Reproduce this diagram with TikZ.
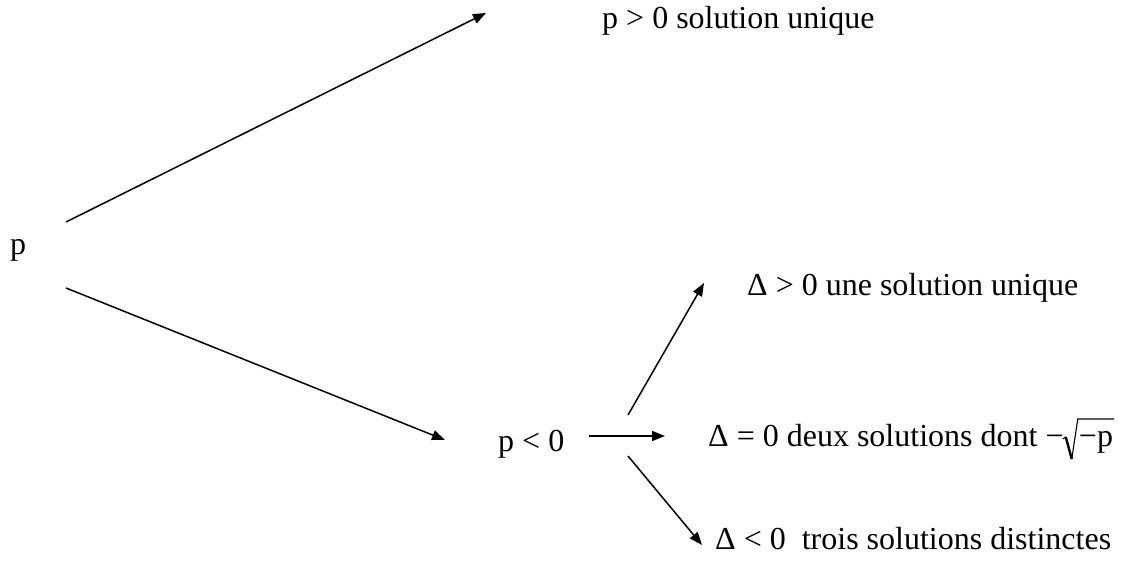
\documentclass[tikz,border=0pt]{standalone}
\usepackage{fontspec}
\setmainfont{Liberation Serif}
\usetikzlibrary{arrows.meta,calc}
\begin{document}
\begin{tikzpicture}[x=1pt,y=-1pt,
  lbl/.style={anchor=base west,inner sep=0pt,font=\fontsize{32}{38}\selectfont},
  arr/.style={line width=1.5pt,-{Triangle[length=13pt,width=10pt]}},
  radical/.style={line width=1.1pt,line join=miter}]
\useasboundingbox (0,0) rectangle (1126,575);
\node[lbl] (p) at (10,254) {p};
\node[lbl] (pp) at (602,29) {p > 0 solution unique};
\node[lbl] (pm) at (498,451) {p < 0};
\node[lbl] (dp) at (747,295) {Δ > 0 une solution unique};
\node[lbl] (dz) at (708,446) {Δ = 0 deux solutions dont −};
\node[lbl] (sq) at ($(dz.base east)+(15,0)$) {−p};
\node[lbl] (dm) at (715,549) {Δ < 0\ \ trois solutions distinctes};
% radical sign
\draw[radical] ($(sq.base west)+(-16,-7)$) -- ($(sq.base west)+(-13,-9)$);
\draw[line width=2.4pt] ($(sq.base west)+(-13,-9)$) -- ($(sq.base west)+(-7,13)$);
\draw[radical] ($(sq.base west)+(-7,13)$) -- ($(sq.base west)+(-1,-27)$) -- ($(sq.base east)+(1,-27)$);
\coordinate (a1s) at (66,222);
\coordinate (a1e) at (486,13);
\coordinate (a2s) at (66,288);
\coordinate (a2e) at (445,440);
\coordinate (a3s) at (589,436);
\coordinate (a3e) at (665,436);
\coordinate (a4s) at (628,415);
\coordinate (a4e) at (704,283);
\coordinate (a5s) at (628,456);
\coordinate (a5e) at (702,545);
\draw[arr] (a1s) -- (a1e);
\draw[arr] (a2s) -- (a2e);
\draw[arr] (a3s) -- (a3e);
\draw[arr] (a4s) -- (a4e);
\draw[arr] (a5s) -- (a5e);
\end{tikzpicture}
\end{document}
